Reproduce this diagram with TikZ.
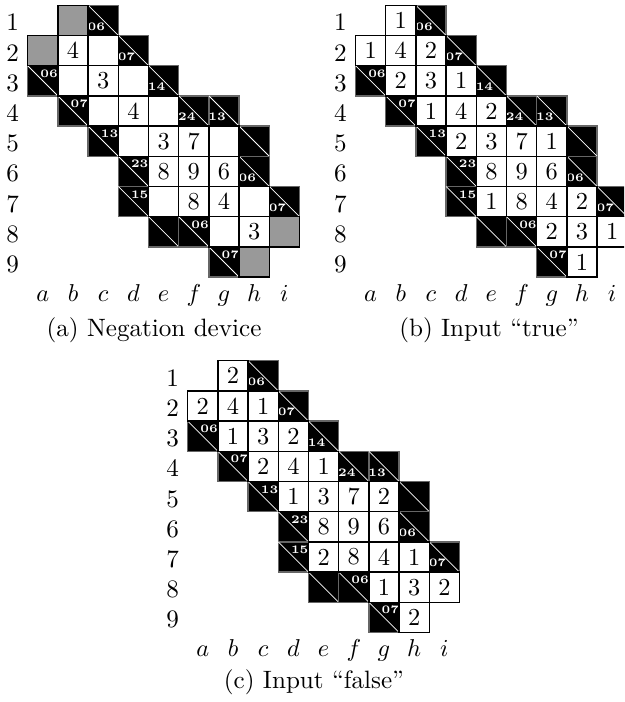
\documentclass[tikz,border=0pt]{standalone}
\tikzset{
 cellbox/.style={draw=black, line width=0.6pt},
 blackbox/.style={draw=black!60, fill=black, line width=0.6pt},
 digit/.style={font=\fontsize{10}{12}\selectfont, inner sep=0pt},
 clue/.style={font=\fontsize{4.7}{5}\selectfont\bfseries, text=white, inner sep=0pt},
 lbl/.style={font=\fontsize{10.3}{12}\selectfont, inner sep=0pt, anchor=base},
 captext/.style={font=\fontsize{10.3}{12}\selectfont, inner sep=0pt, anchor=base},
 gridunits/.style={x=12.382pt, y=-12.382pt},
}
\newcommand\Wc[4]{%
 \draw[cellbox, fill=white] ({#2-1},{#3-1}) rectangle (#2,#3);
 \node[digit] (#1w#2#3) at ({#2-0.5},{#3-0.5}) {#4};}
\newcommand\Gc[3]{\draw[cellbox, fill=black!40] ({#2-1},{#3-1}) rectangle (#2,#3);}
\newcommand\Bc[5]{%
 \draw[blackbox] ({#2-1},{#3-1}) rectangle (#2,#3);
 \draw[white, line width=0.3pt] ({#2-1},{#3-1}) -- (#2,#3);
 \node[clue] (#1d#2#3) at ({#2-0.73},{#3-0.3}) {#4};
 \node[clue] (#1a#2#3) at ({#2-0.29},{#3-0.74}) {#5};}
\newcommand\Blacks[1]{%
 \Bc{#1}{3}{1}{06}{}
 \Bc{#1}{4}{2}{07}{}
 \Bc{#1}{1}{3}{}{06}
 \Bc{#1}{5}{3}{14}{}
 \Bc{#1}{2}{4}{}{07}
 \Bc{#1}{6}{4}{24}{}
 \Bc{#1}{7}{4}{13}{}
 \Bc{#1}{3}{5}{}{13}
 \Bc{#1}{8}{5}{}{}
 \Bc{#1}{4}{6}{}{23}
 \Bc{#1}{8}{6}{06}{}
 \Bc{#1}{4}{7}{}{15}
 \Bc{#1}{9}{7}{07}{}
 \Bc{#1}{5}{8}{}{}
 \Bc{#1}{6}{8}{}{06}
 \Bc{#1}{7}{9}{}{07}}
\newcommand\Fixed[1]{%
 \Wc{#1}{2}{2}{4}
 \Wc{#1}{3}{3}{3}
 \Wc{#1}{4}{4}{4}
 \Wc{#1}{5}{5}{3}
 \Wc{#1}{6}{5}{7}
 \Wc{#1}{5}{6}{8}
 \Wc{#1}{6}{6}{9}
 \Wc{#1}{7}{6}{6}
 \Wc{#1}{6}{7}{8}
 \Wc{#1}{7}{7}{4}
 \Wc{#1}{8}{8}{3}}
\newcommand\Labels[1]{%
 \foreach \r in {1,...,9} \node[lbl] (#1r\r) at (-0.5,{\r-0.15}) {\r};
 \foreach \c/\l in {1/a,2/b,3/c,4/d,5/e,6/f,7/g,8/h,9/i}
   \node[lbl] (#1c\c) at ({\c-0.5},9.8) {$\l$};}
\begin{document}
\begin{tikzpicture}[x=0.41pt, y=-0.41pt]
\useasboundingbox (0,0) rectangle (624,702);
\clip (0,0) rectangle (624,702);
% (a)
\begin{scope}[shift={(27.7,5.3)}, gridunits]
 \Blacks{A}
 \Gc{A}{2}{1} \Gc{A}{1}{2}
 \Wc{A}{3}{2}{} \Wc{A}{2}{3}{} \Wc{A}{4}{3}{} \Wc{A}{3}{4}{} \Wc{A}{5}{4}{}
 \Wc{A}{4}{5}{} \Wc{A}{7}{5}{} \Wc{A}{5}{7}{} \Wc{A}{8}{7}{} \Wc{A}{7}{8}{}
 \Gc{A}{9}{8} \Gc{A}{8}{9}
 \Fixed{A}
 \Labels{A}
\end{scope}
% (b)
\begin{scope}[shift={(355.5,5.3)}, gridunits]
 \Blacks{B}
 \Wc{B}{2}{1}{1} \Wc{B}{1}{2}{1}
 \Wc{B}{3}{2}{2} \Wc{B}{2}{3}{2} \Wc{B}{4}{3}{1} \Wc{B}{3}{4}{1} \Wc{B}{5}{4}{2}
 \Wc{B}{4}{5}{2} \Wc{B}{7}{5}{1} \Wc{B}{5}{7}{1} \Wc{B}{8}{7}{2} \Wc{B}{7}{8}{2}
 \Wc{B}{9}{8}{1} \Wc{B}{8}{9}{1}
 \Fixed{B}
 \Labels{B}
\end{scope}
% (c)
\begin{scope}[shift={(187.7,360.7)}, gridunits]
 \Blacks{C}
 \Wc{C}{2}{1}{2} \Wc{C}{1}{2}{2}
 \Wc{C}{3}{2}{1} \Wc{C}{2}{3}{1} \Wc{C}{4}{3}{2} \Wc{C}{3}{4}{2} \Wc{C}{5}{4}{1}
 \Wc{C}{4}{5}{1} \Wc{C}{7}{5}{2} \Wc{C}{5}{7}{2} \Wc{C}{8}{7}{1} \Wc{C}{7}{8}{1}
 \Wc{C}{9}{8}{2} \Wc{C}{8}{9}{2}
 \Fixed{C}
 \Labels{C}
\end{scope}
\node[captext] (capA) at (154,336) {(a) Negation device};
\node[captext] (capB) at (489,336) {(b) Input “true”};
\node[captext] (capC) at (314,688) {(c) Input “false”};
\end{tikzpicture}
\end{document}
